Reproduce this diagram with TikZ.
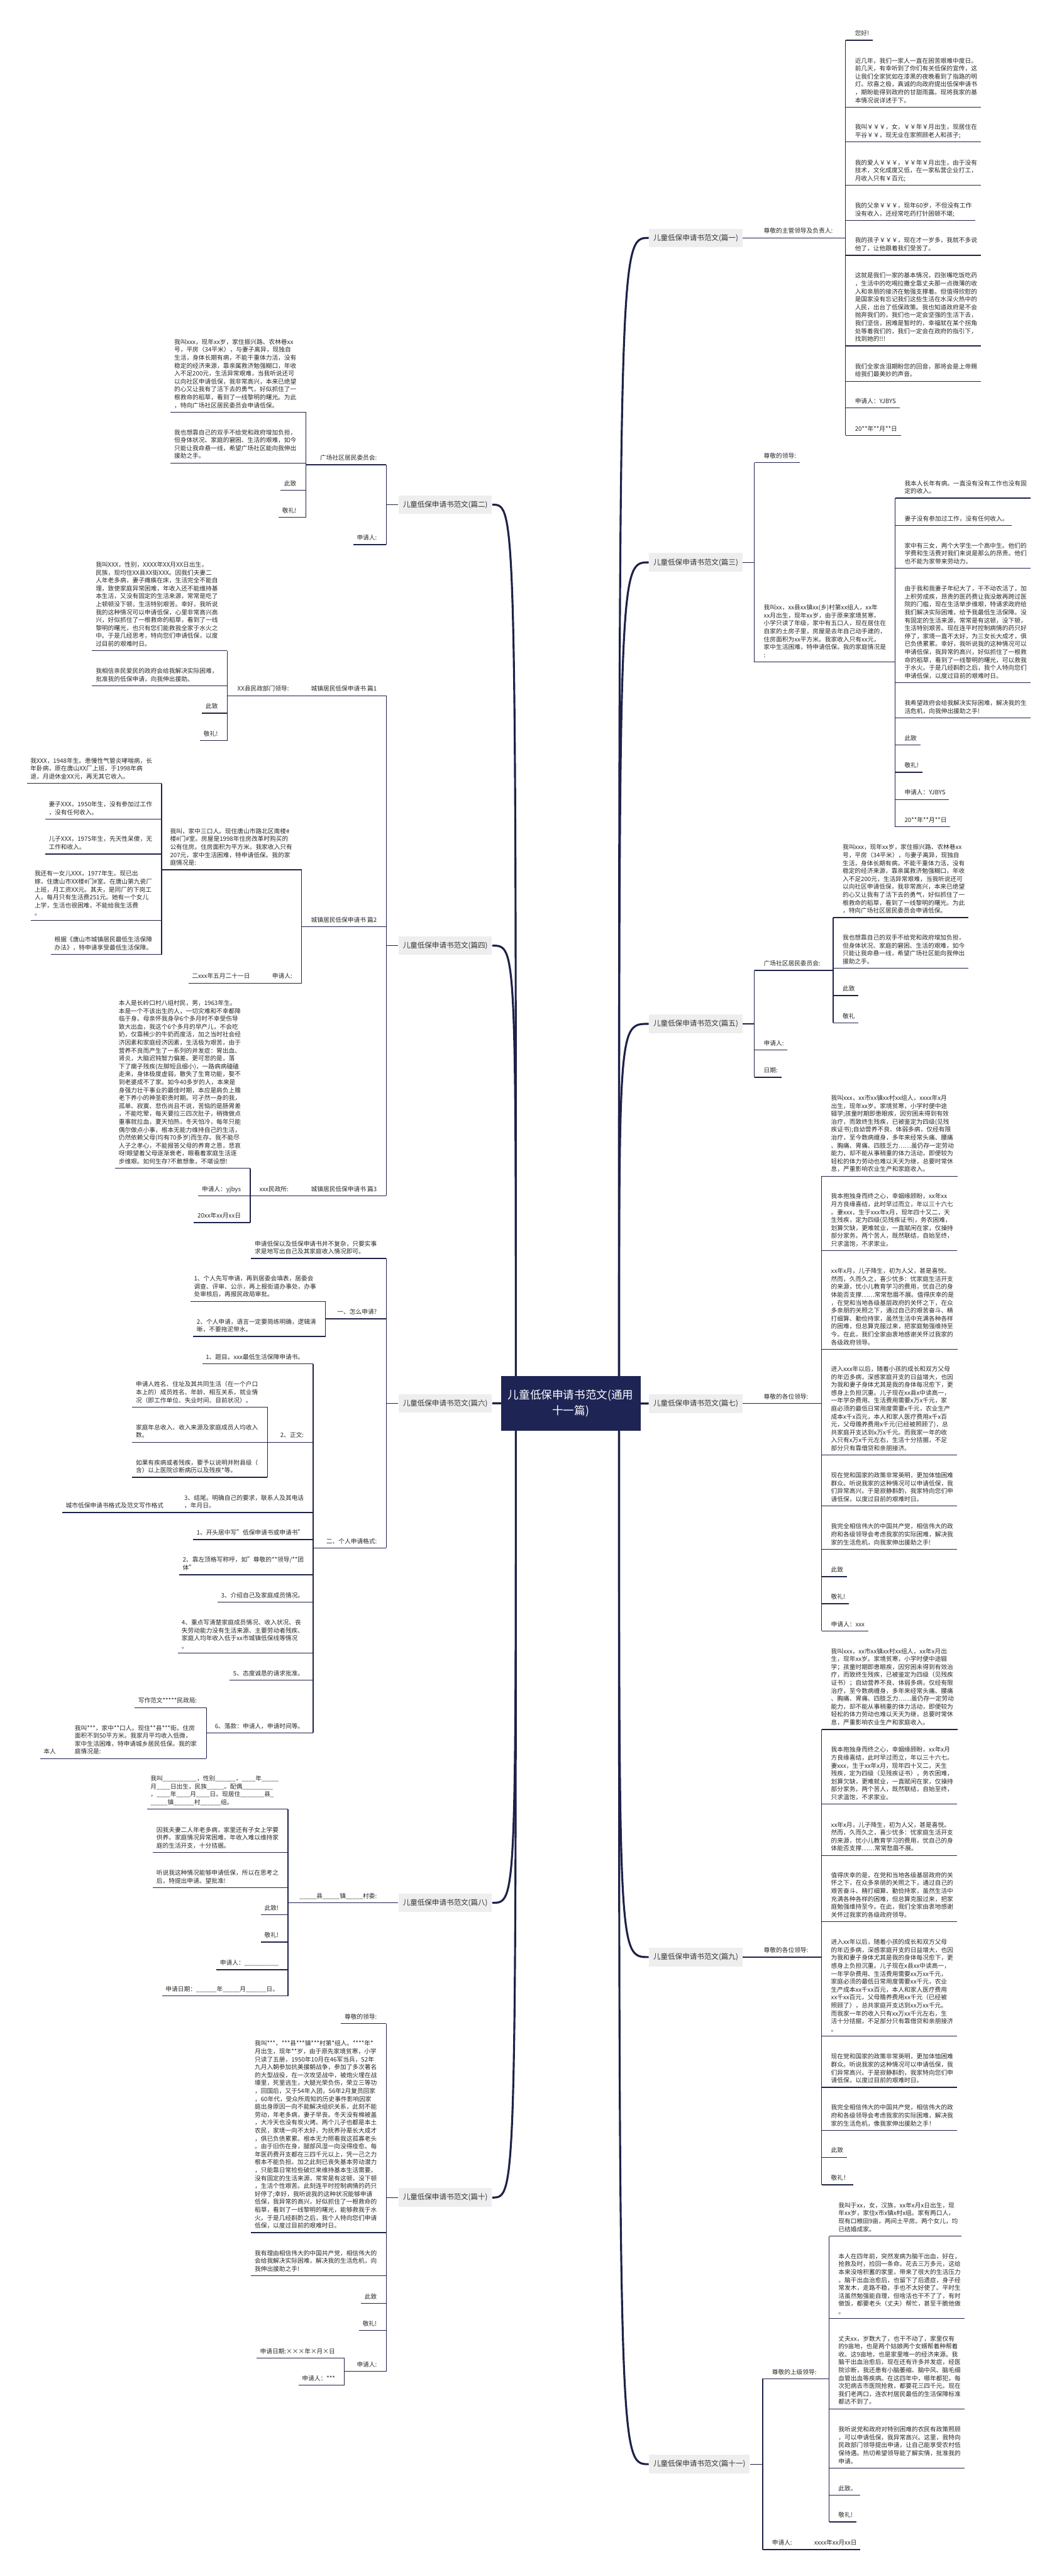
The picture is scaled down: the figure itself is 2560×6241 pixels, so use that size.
\documentclass[tikz,border=0pt]{standalone}
\usepackage{fontspec}
\setmainfont{Noto Sans CJK SC}
\usetikzlibrary{calc}
\definecolor{linec}{RGB}{30,34,72}
\definecolor{txtc}{RGB}{40,40,40}
\definecolor{lblf}{RGB}{238,238,238}
\definecolor{lblt}{RGB}{51,51,51}
\definecolor{ctrf}{RGB}{30,36,84}
\newcommand\ftxt{\fontsize{3.7pt}{4.8pt}\selectfont}
\newcommand\flbl{\fontsize{4.4pt}{5pt}\selectfont}
\newcommand\fctr{\fontsize{6.7pt}{9.5pt}\selectfont}
\ExplSyntaxOn
\NewDocumentCommand\bl{m}{\prg_replicate:nn{#1}{\textunderscore}}
\ExplSyntaxOff
\tikzset{
 txt/.style={font=\ftxt,text=txtc,inner sep=0pt,align=left},
 ul/.style={draw=linec,line width=0.5pt},
 br/.style={draw=linec,line width=1.2pt},
 lbl/.style={fill=lblf,text=lblt,font=\flbl,inner xsep=2.6pt,inner ysep=0pt,minimum height=11.25pt},
 ctr/.style={fill=ctrf,text=white,font=\fctr,align=center,minimum width=84.5pt,minimum height=33pt,inner sep=0pt}
}
% right leaf: name, bracket x, underline y, text
\newcommand\rleaf[4]{\coordinate (#1u) at (#2,#3);\node[txt,anchor=south west] (#1) at (#2+22,#3-4.6) {#4\strut};\draw[ul] (#1u) -- (#1u -| #1.east) -- ++(2pt,0);}
\newcommand\lleaf[4]{\coordinate (#1u) at (#2,#3);\node[txt,anchor=south east] (#1) at (#2-22,#3-4.6) {#4\strut};\draw[ul] (#1u) -- (#1u -| #1.west) -- ++(-2pt,0);}
% middle: name, bracket x, underline y, child bracket x, text
\newcommand\rmid[5]{\coordinate (#1u) at (#2,#3);\coordinate (#1e) at (#4,#3);\node[txt,anchor=south west] (#1) at (#2+22,#3-4.6) {#5\strut};\draw[ul] (#1u) -- (#1e);}
\newcommand\lmid[5]{\coordinate (#1u) at (#2,#3);\coordinate (#1e) at (#4,#3);\node[txt,anchor=south east] (#1) at (#2-22,#3-4.6) {#5\strut};\draw[ul] (#1u) -- (#1e);}
\begin{document}
\begin{tikzpicture}[x=0.25pt,y=-0.25pt]
\useasboundingbox (0,0) rectangle (2560,6241);
\fill[white] (0,0) rectangle (2560,6241);

%================ RIGHT SIDE ================
% ---- 篇一
\node[lbl,anchor=west] (b1) at (1572,576.4) {儿童低保申请书范文(篇一)};
\rmid{m1}{1828}{576.4}{2049}{尊敬的主管领导及负责人:}
\draw[ul] (b1.east) -- (m1u);
\rleaf{a1}{2049}{97.7}{您好!}
\rleaf{a2}{2049}{259.7}{近几年，我们一家人一直在困苦艰难中度日。\\前几天，有幸听到了你们有关低保的宣传，这\\让我们全家犹如在漆黑的夜晚看到了指路的明\\灯。欣喜之极，真诚的向政府提出低保申请书\\，期盼能得到政府的甘甜雨露。现将我家的基\\本情况说详述于下。}
\rleaf{a3}{2049}{343.8}{我叫￥￥￥，女，￥￥年￥月出生，现居住在\\平谷￥￥，现无业在家照顾老人和孩子;}
\rleaf{a4}{2049}{448.8}{我的爱人￥￥￥，￥￥年￥月出生，由于没有\\技术，文化成度又低，在一家私营企业打工，\\月收入只有￥百元;}
\rleaf{a5}{2049}{534.3}{我的父亲￥￥￥，现年60岁，不但没有工作\\没有收入，还经常吃药打针困顿不堪;}
\rleaf{a6}{2049}{618.4}{我的孩子￥￥￥，现在才一岁多，我就不多说\\他了，让他跟着我们受苦了。}
\rleaf{a7}{2049}{838}{这就是我们一家的基本情况，四张嘴吃饭吃药\\，生活中的吃喝拉撒全靠丈夫那一点微薄的收\\入和亲朋的接济在勉强支撑着。但值得欣慰的\\是国家没有忘记我们这些生活在水深火热中的\\人民，出台了低保政策。我也知道政府是不会\\抛弃我们的，我们也一定会坚强的生活下去，\\我们坚信，困难是暂时的，幸福就在某个拐角\\处等着我们的，我们一定会在政府的指引下，\\找到她的!!!}
\rleaf{a8}{2049}{923.6}{我们全家含泪期盼您的回音，那将会是上帝赐\\给我们最美妙的声音。}
\rleaf{a9}{2049}{988.2}{申请人：YJBYS}
\rleaf{a10}{2049}{1055}{20**年**月**日}
\draw[ul] (a1u) -- (a10u);

% ---- 篇三
\node[lbl,anchor=west] (b3) at (1572,1362.5) {儿童低保申请书范文(篇三)};
\coordinate (k3) at (1828,1362.5);
\draw[ul] (b3.east) -- (k3);
\rleaf{t1}{1828}{1121}{尊敬的领导:}
\rmid{t2}{1828}{1604}{2169}{我叫xx，xx县xx镇xx(乡)村第xx组人，xx年\\xx月出生，现年xx岁，由于原来家境贫寒，\\小学只读了年级，家中有五口人，现在居住在\\自家的土房子里，房屋是去年自己动手建的，\\住房面积为xx平方米。我家收入只有xx元，\\家中生活困难，特申请低保。我的家庭情况是\\:}
\draw[ul] (t1u) -- (t2u);
\rleaf{t3}{2169}{1206.8}{我本人长年有病。一直没有没有工作也没有固\\定的收入。}
\rleaf{t4}{2169}{1273}{妻子没有参加过工作，没有任何收入。}
\rleaf{t5}{2169}{1377}{家中有三女，两个大学生一个高中生。他们的\\学费和生活费对我们来说是那么的昂贵。他们\\也不能为家带来劳动力。}
\rleaf{t6}{2169}{1654}{由于我和我妻子年纪大了，干不动农活了，加\\上积劳成疾，昂贵的医药费让我没敢再跨过医\\院的门槛，现在生活举步维艰，特请求政府给\\我们解决实际困难，给予我最低生活保障。没\\有固定的生活来源，常常是有这顿，没下顿，\\生活特别艰苦。现在连平时控制病情的药只好\\停了，家境一直不太好，为三女长大成才，俱\\已负债累累。幸好，我听说我的这种情况可以\\申请低保，我异常的高兴，好似抓住了一根救\\命的稻草，看到了一线黎明的曙光，可以救我\\于水火。于是几经斟酌之后，我个人特向您们\\申请低保，以度过目前的艰难时日。}
\rleaf{t7}{2169}{1739}{我希望政府会给我解决实际困难，解决我的生\\活危机，向我伸出援助之手!}
\rleaf{t8}{2169}{1805}{此致}
\rleaf{t9}{2169}{1871}{敬礼!}
\rleaf{t10}{2169}{1937}{申请人：YJBYS}
\rleaf{t11}{2169}{2003}{20**年**月**日}
\draw[ul] (t3u) -- (t11u);

% ---- 篇五
\node[lbl,anchor=west] (b5) at (1572,2480.5) {儿童低保申请书范文(篇五)};
\coordinate (k5) at (1828,2480.5);
\draw[ul] (b5.east) -- (k5);
\rmid{f1}{1828}{2351}{2019}{广场社区居民委员会:}
\rleaf{f2}{1828}{2544}{申请人:}
\rleaf{f3}{1828}{2610}{日期:}
\draw[ul] (f1u) -- (f3u);
\rleaf{f4}{2019}{2223}{我叫xxx，现年xx岁，家住振兴路、农林巷xx\\号，平房（34平米），与妻子离异，现独自\\生活，身体长期有病，不能干重体力活，没有\\稳定的经济来源，靠亲属救济勉强糊口，年收\\入不足200元，生活异常艰难，当我听说还可\\以向社区申请低保，我非常高兴，本来已绝望\\的心又让我有了活下去的勇气，好似抓住了一\\根救命的稻草，看到了一线黎明的曙光。为此\\，特向广场社区居民委员会申请低保。}
\rleaf{f5}{2019}{2346}{我也想靠自己的双手不给党和政府增加负担，\\但身体状况、家庭的窘困、生活的艰难，如今\\只能让我命悬一线，希望广场社区能向我伸出\\援助之手。}
\rleaf{f6}{2019}{2412}{此致}
\rleaf{f7}{2019}{2478}{敬礼}
\draw[ul] (f4u) -- (f7u);

% ---- 篇七
\node[lbl,anchor=west] (b7) at (1572,3400.5) {儿童低保申请书范文(篇七)};
\rmid{s0}{1828}{3400.5}{1991}{尊敬的各位领导:}
\draw[ul] (b7.east) -- (s0u);
\rleaf{s1}{1991}{2849.5}{我叫xxx，xx市xx镇xx村xx组人，xxxx年x月\\出生，现年xx岁。家境贫寒，小学时便中途\\辍学;孩童时期即患眼疾，因穷困未得到有效\\治疗，而致终生残疾，已被鉴定为四级(见残\\疾证书);自幼营养不良、体弱多病，仅经有限\\治疗，至今数病缠身，多年来经常头痛、腰痛\\、胸痛、胃痛、四肢乏力……虽仍存一定劳动\\能力，却不能从事稍重的体力活动，即便较为\\轻松的体力劳动也难以天天为继，总要时常休\\息，严重影响农业生产和家庭收入。}
\rleaf{s2}{1991}{3030.3}{我本抱独身而终之心，幸姻缘顾盼，xx年xx\\月方良缘喜结，此时早过而立，年以三十六七\\。妻xxx，生于xxx年x月，现年四十又二，天\\生残疾，定为四级(见残疾证书)，务农困难，\\划算欠缺，更难就业，一直赋闲在家，仅操持\\部分家务。两个苦人，既然联结，自始至终，\\只求温饱，不求家业。}
\rleaf{s3}{1991}{3268.8}{xx年x月，儿子降生，初为人父，甚是喜悦。\\然而，久而久之，喜少忧多：忧家庭生活开支\\的来源，忧小儿教育学习的费用，忧自己的身\\体能否支撑……常常愁眉不展。值得庆幸的是\\，在党和当地各级基层政府的关怀之下，在众\\多亲朋的关照之下，通过自己的艰苦奋斗、精\\打细算、勤俭持家，虽然生活中充满各种各样\\的困难，但总算克服过来，把家庭勉强维持至\\今。在此，我们全家由衷地感谢关怀过我家的\\各级政府领导。}
\rleaf{s4}{1991}{3525.4}{进入xxx年以后，随着小孩的成长和双方父母\\的年迈多病，深感家庭开支的日益增大，也因\\为我和妻子身体尤其是我的身体每况愈下，更\\感身上负担沉重。儿子现在xx县x中读高一，\\一年学杂费用、生活费用需要x万x千元，家\\庭必须的最低日常用度需要x千元，农业生产\\成本x千x百元，本人和家人医疗费用x千x百\\元，父母赡养费用x千元(已经被照顾了)，总\\共家庭开支达到x万x千元。而我家一年的收\\入只有x万x千元左右，生活十分拮据，不足\\部分只有靠借贷和亲朋接济。}
\rleaf{s5}{1991}{3648.5}{现在党和国家的政策非常英明，更加体恤困难\\群众。听说我家的这种情况可以申请低保，我\\们异常高兴。于是寂静斟酌，我家特向您们申\\请低保，以度过目前的艰难时日。}
\rleaf{s6}{1991}{3753.5}{我完全相信伟大的中国共产党，相信伟大的政\\府和各级领导会考虑我家的实际困难，解决我\\家的生活危机，向我家伸出援助之手!}
\rleaf{s7}{1991}{3819.8}{此致}
\rleaf{s8}{1991}{3885.3}{敬礼!}
\rleaf{s9}{1991}{3951.6}{申请人：xxx}
\draw[ul] (s1u) -- (s9u);

% ---- 篇九
\node[lbl,anchor=west] (b9) at (1572,4741.5) {儿童低保申请书范文(篇九)};
\rmid{n0}{1828}{4741.5}{1991}{尊敬的各位领导:}
\draw[ul] (b9.east) -- (n0u);
\rleaf{n1}{1991}{4189.9}{我叫xxx，xx市xx镇xx村xx组人，xx年x月出\\生，现年xx岁。家境贫寒，小学时便中途辍\\学；孩童时期即患眼疾，因穷困未得到有效治\\疗，而致终生残疾，已被鉴定为四级（见残疾\\证书）；自幼营养不良、体弱多病，仅经有限\\治疗，至今数病缠身，多年来经常头痛、腰痛\\、胸痛、胃痛、四肢乏力……虽仍存一定劳动\\能力，却不能从事稍重的体力活动，即便较为\\轻松的体力劳动也难以天天为继，总要时常休\\息，严重影响农业生产和家庭收入。}
\rleaf{n2}{1991}{4371.1}{我本抱独身而终之心，幸姻缘顾盼，xx年x月\\方良缘喜结，此时早过而立，年以三十六七。\\妻xxx，生于xx年x月，现年四十又二，天生\\残疾，定为四级（见残疾证书），务农困难，\\划算欠缺，更难就业，一直赋闲在家，仅操持\\部分家务。两个苦人，既然联结，自始至终，\\只求温饱，不求家业。}
\rleaf{n3}{1991}{4495.2}{xx年x月，儿子降生，初为人父，甚是喜悦。\\然而，久而久之，喜少忧多：忧家庭生活开支\\的来源，忧小儿教育学习的费用，忧自己的身\\体能否支撑……常常愁眉不展。}
\rleaf{n4}{1991}{4655.6}{值得庆幸的是，在党和当地各级基层政府的关\\怀之下，在众多亲朋的关照之下，通过自己的\\艰苦奋斗、精打细算、勤俭持家，虽然生活中\\充满各种各样的困难，但总算克服过来，把家\\庭勉强维持至今。在此，我们全家由衷地感谢\\关怀过我家的各级政府领导。}
\rleaf{n5}{1991}{4933.2}{进入xx年以后，随着小孩的成长和双方父母\\的年迈多病，深感家庭开支的日益增大，也因\\为我和妻子身体尤其是我的身体每况愈下，更\\感身上负担沉重。儿子现在x县xx中读高一，\\一年学杂费用、生活费用需要xx万xx千元，\\家庭必须的最低日常用度需要xx千元，农业\\生产成本xx千xx百元，本人和家人医疗费用\\xx千xx百元，父母赡养费用xx千元（已经被\\照顾了），总共家庭开支达到xx万xx千元。\\而我家一年的收入只有xx万xx千元左右，生\\活十分拮据，不足部分只有靠借贷和亲朋接济\\。}
\rleaf{n6}{1991}{5057.2}{现在党和国家的政策非常英明，更加体恤困难\\群众。听说我家的这种情况可以申请低保，我\\们异常高兴。于是寂静斟酌，我家特向您们申\\请低保，以度过目前的艰难时日。}
\rleaf{n7}{1991}{5161.3}{我完全相信伟大的中国共产党，相信伟大的政\\府和各级领导会考虑我家的实际困难，解决我\\家的生活危机，像我家伸出援助之手！}
\rleaf{n8}{1991}{5226.4}{此致}
\rleaf{n9}{1991}{5293}{敬礼！}
\draw[ul] (n1u) -- (n9u);

% ---- 篇十一
\node[lbl,anchor=west] (b11) at (1572,5970) {儿童低保申请书范文(篇十一)};
\coordinate (k11) at (1848,5970);
\draw[ul] (b11.east) -- (k11);
\rmid{e0}{1848}{5763}{2009}{尊敬的上级领导:}
\rmid{e7}{1848}{6176.7}{1950}{申请人:}
\rleaf{e8}{1950}{6176.7}{xxxx年xx月xx日}
\draw[ul] (e0u) -- (e7u);
\rleaf{e1}{2009}{5417.4}{我叫于xx，女，汉族，xx年x月x日出生，现\\年xx岁，家住x市x镇x村x组。家有两口人，\\现有口粮田9亩，两间土平房。两个女儿，均\\已结婚成家。}
\rleaf{e2}{2009}{5617.5}{本人在四年前，突然发病为脑干出血，好在，\\抢救及时，捡回一条命。花去三万多元，这给\\本来没啥积蓄的家里，带来了很大的生活压力\\。脑干出血治愈后，也留下了后遗症，身子经\\常发木，走路不稳，手也不太好使了。平时生\\活虽然勉强能自理，但啥活也干不了了，有时\\做饭，都要老头（丈夫）帮忙，甚至干脆他做\\。}
\rleaf{e3}{2009}{5835.9}{丈夫xx，岁数大了，也干不动了，家里仅有\\的9亩地，也是两个姑娘两个女婿帮着种帮着\\收。这9亩地，也是家里唯一的经济来源。我\\脑干出血治愈后，现在还有许多并发症，经医\\院诊断，我还患有小脑萎缩、脑中风、脑毛细\\血管出血等疾病。在这四年中，哪年都犯，每\\次犯病去市医院抢救，都要花三四千元。现在\\我们老两口，连农村居民最低的生活保障标准\\都达不到了。}
\rleaf{e4}{2009}{5979.6}{我听说党和政府对特别困难的农民有政策照顾\\，可以申请低保，我异常高兴。这里，我特向\\民政部门领导提出申请，让自己能享受农村低\\保待遇。热切希望领导能了解实情，批准我的\\申请。}
\rleaf{e5}{2009}{6045}{此致。}
\rleaf{e6}{2009}{6110}{敬礼!}
\draw[ul] (e1u) -- (e6u);

%================ LEFT SIDE ================
% ---- 篇二
\node[lbl,anchor=east] (b2) at (1193,1222.7) {儿童低保申请书范文(篇二)};
\coordinate (k2) at (936,1222.7);
\draw[ul] (b2.west) -- (k2);
\lmid{g1}{936}{1126}{741}{广场社区居民委员会:}
\lleaf{g2}{936}{1319.3}{申请人:}
\draw[ul] (g1u) -- (g2u);
\lleaf{g3}{741}{998.7}{我叫xxx，现年xx岁，家住振兴路、农林巷xx\\号，平房（34平米），与妻子离异，现独自\\生活，身体长期有病，不能干重体力活，没有\\稳定的经济来源，靠亲属救济勉强糊口，年收\\入不足200元，生活异常艰难，当我听说还可\\以向社区申请低保，我非常高兴，本来已绝望\\的心又让我有了活下去的勇气，好似抓住了一\\根救命的稻草，看到了一线黎明的曙光。为此\\，特向广场社区居民委员会申请低保。}
\lleaf{g4}{741}{1121.7}{我也想靠自己的双手不给党和政府增加负担，\\但身体状况、家庭的窘困、生活的艰难，如今\\只能让我命悬一线，希望广场社区能向我伸出\\援助之手。}
\lleaf{g5}{741}{1187.7}{此致}
\lleaf{g6}{741}{1253.3}{敬礼!}
\draw[ul] (g3u) -- (g6u);

% ---- 篇四
\node[lbl,anchor=east] (b4) at (1193,2291) {儿童低保申请书范文(篇四)};
\coordinate (k4) at (936,2291);
\draw[ul] (b4.west) -- (k4);
\lmid{h1}{936}{1685.5}{723}{城镇居民低保申请书 篇1}
\lmid{h1a}{723}{1685.5}{550.8}{XX县民政部门领导:}
\lmid{h2}{936}{2245}{731}{城镇居民低保申请书 篇2}
\lmid{h3}{936}{2897}{722}{城镇居民低保申请书 篇3}
\lmid{h3a}{722}{2897}{606.5}{xxx民政所:}
\draw[ul] (h1u) -- (h3u);
% 篇1 children
\lleaf{p1}{550.8}{1576.7}{我叫XXX，性别，XXXX年XX月XX日出生，\\民族，现均住XX县XX街XXX。因我们夫妻二\\人年老多病，妻子瘫痪在床，生活完全不能自\\理，致使家庭异常困难，年收入还不能维持基\\本生活，又没有固定的生活来源，常常是吃了\\上顿顿没下顿，生活特别艰苦。幸好，我听说\\我的这种情况可以申请低保，心里非常高兴高\\兴，好似抓住了一根救命的稻草，看到了一线\\黎明的曙光，也只有您们能救我全家于水火之\\中。于是几经思考，特向您们申请低保，以度\\过目前的艰难时日。}
\lleaf{p2}{550.8}{1661.6}{我相信亲民爱民的政府会给我解决实际困难，\\批准我的低保申请，向我伸出援助。}
\lleaf{p3}{550.8}{1728}{此致}
\lleaf{p4}{550.8}{1794.3}{敬礼!}
\draw[ul] (p1u) -- (p4u);
% 篇2 children
\lmid{q1}{731}{2107.3}{391.6}{我叫，家中三口人。现住唐山市路北区南楼\#\\楼\#门\#室。房屋是1998年住房改革时购买的\\公有住房。住房面积为平方米。我家收入只有\\207元，家中生活困难，特申请低保。我的家\\庭情况是:}
\lmid{q2}{731}{2381.9}{628.5}{申请人:}
\lleaf{q3}{628.5}{2381.9}{二xxx年五月二十一日}
\draw[ul] (q1u) -- (q2u);
\lleaf{r1}{391.6}{1897.9}{我XXX，1948年生。患慢性气管炎哮喘病，长\\年卧病，原在唐山XX厂上班，于1998年病\\退，月退休金XX元，再无其它收入。}
\lleaf{r2}{391.6}{1985}{妻子XXX，1950年生，没有参加过工作\\，没有任何收入。}
\lleaf{r3}{391.6}{2069}{儿子XXX，1975年生，先天性呆傻，无\\工作和收入。}
\lleaf{r4}{391.6}{2229.5}{我还有一女儿XXX，1977年生。现已出\\嫁，住唐山市XX楼\#门\#室。在唐山第九瓷厂\\上班，月工资XX元。其夫，是同厂的下岗工\\人，每月只有生活费251元。她有一个女儿\\上学，生活也很困难，不能给我生活费\\。}
\lleaf{r5}{391.6}{2312.5}{根据《唐山市城镇居民最低生活保障\\办法》，特申请享受最低生活保障。}
\draw[ul] (r1u) -- (r5u);
% 篇3 children
\lleaf{w1}{606.5}{2830.7}{本人是长岭口村八组村民，男，1963年生。\\本是一个不该出生的人，一切灾难和不幸都降\\临于身。母亲怀我身孕6个多月时不幸受伤导\\致大出血，我这个6个多月的早产儿，不会吃\\奶，仅靠稀少的牛奶而度活，加之当时社会经\\济因素和家庭经济因素，生活极为艰苦，由于\\营养不良而产生了一系列的并发症：胃出血、\\肾炎，大脑迟钝智力偏差。更可悲的是，落\\下了瘸子残疾(左脚短且细小)，一路病病磕磕\\走来，身体极度虚弱，散失了生育功能，娶不\\到老婆成不了家。如今40多岁的人，本来是\\身强力壮干事业的最佳时期，本应是肩负上赡\\老下养小的神圣职责时期。可孑然一身的我，\\孤单、寂寞、悲伤尚且不说，苦恼的是肠胃差\\，不能吃荤，每天要拉三四次肚子，稍微做点\\重事就拉血，夏天怕热，冬天怕冷，每年只能\\偶尔做点小事，根本无能力维持自己的生活，\\仍然依赖父母(均有70多岁)而生存。我不能尽\\人子之孝心，不能报答父母的养育之恩，悲哀\\呀!眼望着父母逐渐衰老，眼看着家庭生活逐\\步维艰。如何生存?不敢想象，不堪设想!}
\lleaf{w2}{606.5}{2897}{申请人：yjbys}
\lleaf{w3}{606.5}{2962}{20xx年xx月xx日}
\draw[ul] (w1u) -- (w3u);

% ---- 篇六
\node[lbl,anchor=east] (b6) at (1193,3399.7) {儿童低保申请书范文(篇六)};
\coordinate (k6) at (936,3399.7);
\draw[ul] (b6.west) -- (k6);
\lleaf{x1}{936}{3048.9}{申请低保以及低保申请书并不复杂，只要实事\\求是地写出自己及其家庭收入情况即可。}
\lmid{x2}{936}{3195.3}{789}{一、怎么申请?}
\lmid{x3}{936}{3750.4}{759}{二、个人申请格式:}
\draw[ul] (x1u) -- (x3u);
\lleaf{y1}{789}{3152.7}{1、个人先写申请，再到居委会填表，居委会\\调查、评审、公示，再上报街道办事处，办事\\处审核后，再报民政局审批。}
\lleaf{y2}{789}{3237.9}{2、个人申请，语言一定要简练明确，逻辑清\\晰，不要拖泥带水。}
\draw[ul] (y1u) -- (y2u);
\lleaf{z1}{759}{3304.3}{1、题目。xxx最低生活保障申请书。}
\lmid{z2}{759}{3494.2}{648}{2、正文:}
\lmid{z3}{759}{3664.5}{419}{3、结尾。明确自己的要求，联系人及其电话\\，年月日。}
\lleaf{z3a}{419}{3664.5}{城市低保申请书格式及范文写作格式}
\lleaf{z4}{759}{3730}{1、开头居中写"低保申请书或申请书"}
\lleaf{z5}{759}{3815.1}{2、靠左顶格写称呼，如"尊敬的**领导/**团\\体"}
\lleaf{z6}{759}{3881.6}{3、介绍自己及家庭成员情况。}
\lleaf{z7}{759}{4005}{4、重点写清楚家庭成员情况、收入状况、丧\\失劳动能力没有生活来源、主要劳动者残疾、\\家庭人均年收入低于xx市城镇低保线等情况\\。}
\lleaf{z8}{759}{4070.6}{5、态度诚恳的请求批准。}
\lmid{z9}{759}{4198.3}{500}{6、落款：申请人，申请时间等。}
\draw[ul] (z1u) -- (z9u);
\lleaf{v1}{648}{3409}{申请人姓名、住址及其共同生活（在一个户口\\本上的）成员姓名、年龄、相互关系，就业情\\况（即工作单位、失业时间、目前状况）。}
\lleaf{v2}{648}{3494.2}{家庭年总收入、收入来源及家庭成员人均收入\\数。}
\lleaf{v3}{648}{3579.3}{如果有疾病或者残疾，要予以说明并附县级（\\含）以上医院诊断病历以及残疾*等。}
\draw[ul] (v1u) -- (v3u);
\lleaf{o1}{500}{4137}{写作范文*****民政局:}
\lmid{o2}{500}{4260.5}{158}{我叫***，家中**口人。现住**县***街。住房\\面积不到50平方米。我家月平均收入低微，\\家中生活困难，特申请城乡居民低保。我的家\\庭情况是:}
\lleaf{o3}{158}{4260.5}{本人}
\draw[ul] (o1u) -- (o2u);

% ---- 篇八
\node[lbl,anchor=east] (b8) at (1193,4610) {儿童低保申请书范文(篇八)};
\lmid{j0}{936}{4610}{698}{\bl{5}县\bl{5}镇\bl{5}村委:}
\draw[ul] (b8.west) -- (j0u);
\lleaf{j1}{698}{4383.3}{我叫\bl{10}，性别\bl{6}，\bl{4}年\bl{5}\\月\bl{4}日出生，民族\bl{5}。配偶\bl{9}\\，\bl{4}年\bl{4}月\bl{4}日。现居住\bl{7}县\bl{1}\\\bl{5}镇\bl{6}村\bl{6}组。}
\lleaf{j2}{698}{4488.3}{因我夫妻二人年老多病，家里还有子女上学要\\供养。家庭情况异常困难，年收入难以维持家\\庭的生活开支，十分拮据。}
\lleaf{j3}{698}{4573.3}{听说我这种情况能够申请低保，所以在思考之\\后，特提出申请。望批准!}
\lleaf{j4}{698}{4639.3}{此致!}
\lleaf{j5}{698}{4705}{敬礼!}
\lleaf{j6}{698}{4771.9}{申请人：\bl{10}}
\lleaf{j7}{698}{4835.6}{申请日期：\bl{6}年\bl{5}月\bl{6}日。}
\draw[ul] (j1u) -- (j7u);

% ---- 篇十
\node[lbl,anchor=east] (b10) at (1193,5324) {儿童低保申请书范文(篇十)};
\coordinate (k10) at (936,5324);
\draw[ul] (b10.west) -- (k10);
\lleaf{d1}{936}{4902.8}{尊敬的领导:}
\lleaf{d2}{936}{5409}{我叫***，***县***镇***村第*组人。****年*\\月出生，现年**岁，由于原先家境贫寒，小学\\只读了五册，1950年10月在46军当兵，52年\\九月入朝参加抗美援朝战争，参加了多次著名\\的大型战役，在一次攻坚战中，被炮火埋在战\\壕里，死里逃生，大腿光荣负伤，荣立三等功\\，回国后，又于54年入团，56年2月复员回家\\，60年代，受众所周知的历史事件影响因家\\庭出身原因一向不能解决组织关系，此刻不能\\劳动，年老多病，妻子早丧。冬天没有棉被盖\\，大冷天也没有炭火烤。两个儿子也都是本土\\农民，家境一向不太好，为抚养孙辈长大成才\\，俱已负债累累。根本无力照看我这孤寡老头\\。由于旧伤在身，腿部风湿一向没得痊愈。每\\年医药费开支都在三四千元以上，凭一己之力\\根本不能负担。加之此刻已丧失基本劳动潜力\\，只能靠日常捡些破烂来维持基本生活需要。\\没有固定的生活来源，常常是有这顿，没下顿\\，生活个性艰苦。此刻连平时控制病情的药只\\好停了;幸好，我听说我的这种状况能够申请\\低保，我异常的高兴，好似抓住了一根救命的\\稻草，看到了一线黎明的曙光，能够救我于水\\火。于是几经斟酌之后，我个人特向您们申请\\低保，以度过目前的艰难时日。}
\lleaf{d3}{936}{5513.8}{我有理由相信伟大的中国共产党，相信伟大的\\会给我解决实际困难，解决我的生活危机，向\\我伸出援助之手!}
\lleaf{d4}{936}{5580.3}{此致}
\lleaf{d5}{936}{5646.1}{敬礼!}
\lmid{d6}{936}{5745.2}{834.7}{申请人:}
\draw[ul] (d1u) -- (d6u);
\lleaf{d7}{834.7}{5713.4}{申请日期:×××年×月×日}
\lleaf{d8}{834.7}{5778.5}{申请人：***}
\draw[ul] (d7u) -- (d8u);

%================ MAIN CURVES ================
\coordinate (cr) at (1500,3400);
\coordinate (cl) at (1250,3400);
\foreach \b in {b1,b3,b5,b7,b9,b11}{
  \draw[br] (cr) .. controls (cr |- \b.west) and (cr |- \b.west) .. (\b.west);
}
\foreach \b in {b2,b4,b6,b8,b10}{
  \draw[br] (cl) .. controls (cl |- \b.east) and (cl |- \b.east) .. (\b.east);
}
\node[ctr] (c) at (1383,3400) {儿童低保申请书范文(通用\\十一篇)};
\end{tikzpicture}
\end{document}
